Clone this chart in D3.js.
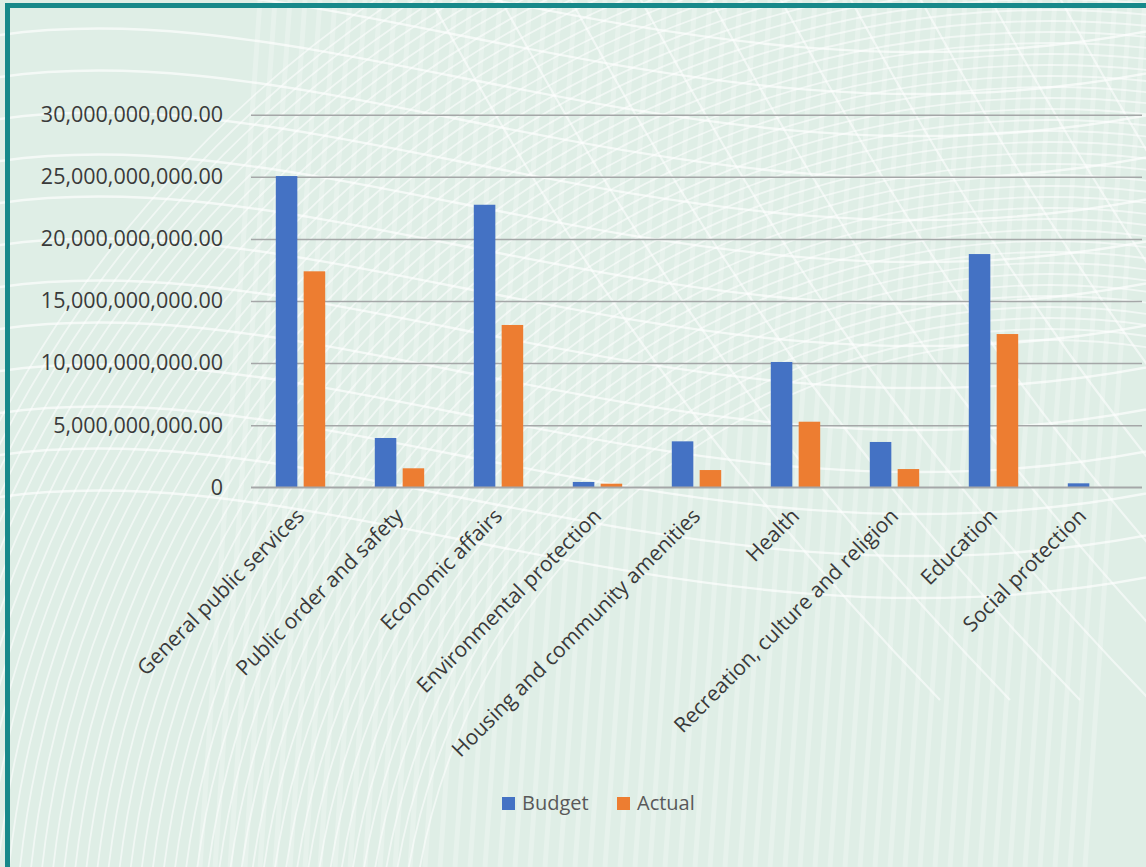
<!DOCTYPE html>
<html>
<head>
<meta charset="utf-8">
<script src="https://cdn.jsdelivr.net/npm/d3@7"></script>
<style>
  html, body { margin: 0; padding: 0; background: #e4f1ea; }
  svg { display: block; }
  text { font-family: "Open Sans", "Noto Sans", sans-serif; }
</style>
</head>
<body>
<svg id="chart" width="1146" height="867"></svg>
<script>
// ---- data ----
const categories = [
  "General public services",
  "Public order and safety",
  "Economic affairs",
  "Environmental protection",
  "Housing and community amenities",
  "Health",
  "Recreation, culture and religion",
  "Education",
  "Social protection"
];
const seriesNames = ["Budget", "Actual"];
const budget = [25.06e9, 3.97e9, 22.75e9, 0.43e9, 3.70e9, 10.09e9, 3.65e9, 18.78e9, 0.32e9];
const actual = [17.39e9, 1.53e9, 13.07e9, 0.29e9, 1.39e9, 5.28e9, 1.47e9, 12.34e9, 0.02e9];
const tickValues = [0, 5e9, 10e9, 15e9, 20e9, 25e9, 30e9];
const colors = ["#4472c4", "#ed7d31"];

// ---- layout ----
const W = 1146, H = 867;
const plot = { left: 251, right: 1142, top: 114.7, bottom: 487.3 };

const svg = d3.select("#chart");

// background
svg.append("rect").attr("width", W).attr("height", H).attr("fill", "#dfeee6");
const deco = svg.append("g").attr("fill", "none").attr("stroke", "#ffffff");
// faint vertical stripes
deco.append("g").attr("stroke-opacity", 0.25).attr("stroke-width", 5)
  .selectAll("line").data(d3.range(260, 1146, 15)).join("line")
  .attr("x1", d => d).attr("y1", 0).attr("x2", d => d - 60).attr("y2", H);
// concentric arcs (lower-left fan)
deco.append("g").attr("stroke-opacity", 0.55).attr("stroke-width", 1.8)
  .selectAll("circle").data(d3.range(640, 1200, 11)).join("circle")
  .attr("cx", 1050).attr("cy", 980).attr("r", d => d);
// sweeping diagonal curves
deco.append("g").attr("stroke-opacity", 0.65).attr("stroke-width", 2.4)
  .selectAll("path").data(d3.range(0, 14)).join("path")
  .attr("d", i => {
    const y0 = -40 + i * 42;
    return `M ${-50} ${y0} C ${300} ${y0 - 80}, ${700} ${y0 + 180}, ${1200} ${y0 + 60}`;
  });
deco.append("g").attr("stroke-opacity", 0.55).attr("stroke-width", 2.2)
  .selectAll("path").data(d3.range(0, 10)).join("path")
  .attr("d", i => {
    const x0 = 420 + i * 70;
    return `M ${x0} ${-20} C ${x0 + 120} ${200}, ${x0 + 250} ${420}, ${x0 + 520} ${700}`;
  });

// teal frame
svg.append("rect").attr("x", 5).attr("y", 3).attr("width", W - 5).attr("height", 5).attr("fill", "#17898a");
svg.append("rect").attr("x", 5).attr("y", 3).attr("width", 5).attr("height", H - 3).attr("fill", "#17898a");

// scales
const x0 = d3.scaleBand().domain(categories).range([plot.left, plot.right]).padding(0);
const step = x0.step();
const x1 = d3.scaleBand().domain(seriesNames)
  .range([step / 2 - 24.7, step / 2 + 24.7]).paddingInner(0.227).paddingOuter(0);
const y = d3.scaleLinear().domain([0, 30e9]).range([plot.bottom, plot.top]);

// gridlines
const yAxis = d3.axisLeft(y).tickValues(tickValues)
  .tickSize(-(plot.right - plot.left))
  .tickFormat(d => d === 0 ? "0" : d3.format(",.2f")(d));
const gy = svg.append("g").attr("transform", `translate(${plot.left},0)`).call(yAxis);
gy.select(".domain").remove();
gy.selectAll(".tick line").attr("stroke", "#a5a7a8").attr("stroke-width", 1.5);
gy.selectAll(".tick text").attr("x", -28).attr("fill", "#3a3a3a")
  .attr("font-size", 21.5).attr("font-family", "Open Sans, sans-serif");

// bars
const rows = categories.map((c, i) => ({ cat: c, vals: [budget[i], actual[i]] }));
const groups = svg.append("g").selectAll("g").data(rows).join("g")
  .attr("transform", d => `translate(${x0(d.cat)},0)`);
groups.selectAll("rect").data(d => d.vals.map((v, j) => ({ s: seriesNames[j], v, j }))).join("rect")
  .attr("x", d => x1(d.s))
  .attr("width", x1.bandwidth())
  .attr("y", d => y(d.v))
  .attr("height", d => y(0) - y(d.v))
  .attr("fill", d => colors[d.j]);

// baseline over bars
svg.append("line").attr("x1", plot.left).attr("x2", plot.right)
  .attr("y1", y(0)).attr("y2", y(0)).attr("stroke", "#a5a7a8").attr("stroke-width", 1.5);

// category labels
const xAxis = d3.axisBottom(x0).tickSize(0);
const gx = svg.append("g").attr("transform", `translate(0,${plot.bottom})`).call(xAxis);
gx.select(".domain").remove();
gx.selectAll(".tick text")
  .attr("fill", "#3a3a3a").attr("font-size", 21).attr("font-family", "Open Sans, sans-serif")
  .attr("text-anchor", "end").attr("dy", 0).attr("y", 0)
  .attr("transform", (d, i) => `translate(${i === categories.length - 1 ? -5 : 5},30) rotate(-45)`);

// legend
const legend = svg.append("g").attr("transform", "translate(502,797)");
const li = legend.selectAll("g").data(seriesNames).join("g")
  .attr("transform", (d, i) => `translate(${i * 115},0)`);
li.append("rect").attr("width", 13).attr("height", 13).attr("fill", (d, i) => colors[i]);
li.append("text").attr("x", 20).attr("y", 12.5).attr("fill", "#595959")
  .attr("font-size", 20).text(d => d);
</script>
</body>
</html>
